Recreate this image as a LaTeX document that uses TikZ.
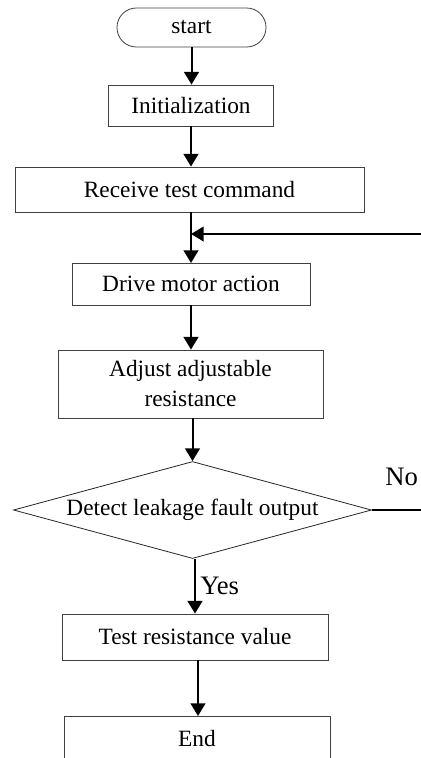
\documentclass[tikz,border=0pt]{standalone}
\usepackage{fontspec}
\setmainfont{Liberation Serif}
\usepackage{tikz}
\usetikzlibrary{arrows.meta,shapes.geometric}

\begin{document}
\begin{tikzpicture}[x=0.75pt,y=0.75pt,yscale=-1,xscale=1,
    box/.style={draw=black!75, line width=0.6pt, rectangle, inner sep=0pt, align=center, font=\fontsize{17.5}{22.5}\selectfont},
    term/.style={box, rounded corners=14.5pt},
    decide/.style={draw=black!85, line width=0.6pt, diamond, aspect=3.7, inner sep=0pt, font=\fontsize{17.5}{21}\selectfont},
    flow/.style={line width=1.5pt, -{Triangle[length=9.5pt,width=11pt]}},
    lbl/.style={inner sep=0pt, font=\fontsize{20}{24}\selectfont}]

    \useasboundingbox (0,0) rectangle (421,758);
    \clip (0,0) rectangle (421,758);

        \node [term, minimum width=111.75pt, minimum height=29.25pt] (start) at (191.5,27.5) {start};
        \node [box, minimum width=123.75pt, minimum height=30.75pt] (init) at (191,105.5) {Initialization};
        \node [box, minimum width=261.75pt, minimum height=33.75pt] (recv) at (189.5,189.5) {Receive test command};
        \node [box, minimum width=178.5pt, minimum height=31.5pt] (drive) at (191,284) {Drive motor action};
        \node [box, minimum width=198.75pt, minimum height=51pt] (adjust) at (190.5,384) {Adjust adjustable\\resistance};
        \node [decide, minimum width=268.5pt, minimum height=72.75pt] (detect) at (192.5,510) {Detect leakage fault output};
        \node [box, minimum width=199.5pt, minimum height=34.5pt] (test) at (195,637) {Test resistance value};
        \node [box, minimum width=199.5pt, minimum height=34.5pt] (end) at (197,739) {End};

        \coordinate (back) at (421,234);
        \coordinate (noout) at (421,510);

        \draw [flow] (start.south) -- (start.south |- init.north);
        \draw [flow] (init.south) -- (init.south |- recv.north);
        \draw [flow] (191,212) -- (191,263);
        \draw [flow] (back) -- (191,234);
        \draw [flow] (drive.south) -- (drive.south |- adjust.north);
        \draw [flow] (192.5,418) -- (detect.north);
        \draw [flow] (test.north |- detect.south) -- (test.north);
        \draw [flow] (198,660) -- (198,716);
        \draw [line width=1.5pt] (detect.east) -- (noout);

        \node [lbl, anchor=west] (yes) at (200,586) {Yes};
        \node [lbl, anchor=base west] (no) at (385,485) {No};
\end{tikzpicture}
\end{document}
